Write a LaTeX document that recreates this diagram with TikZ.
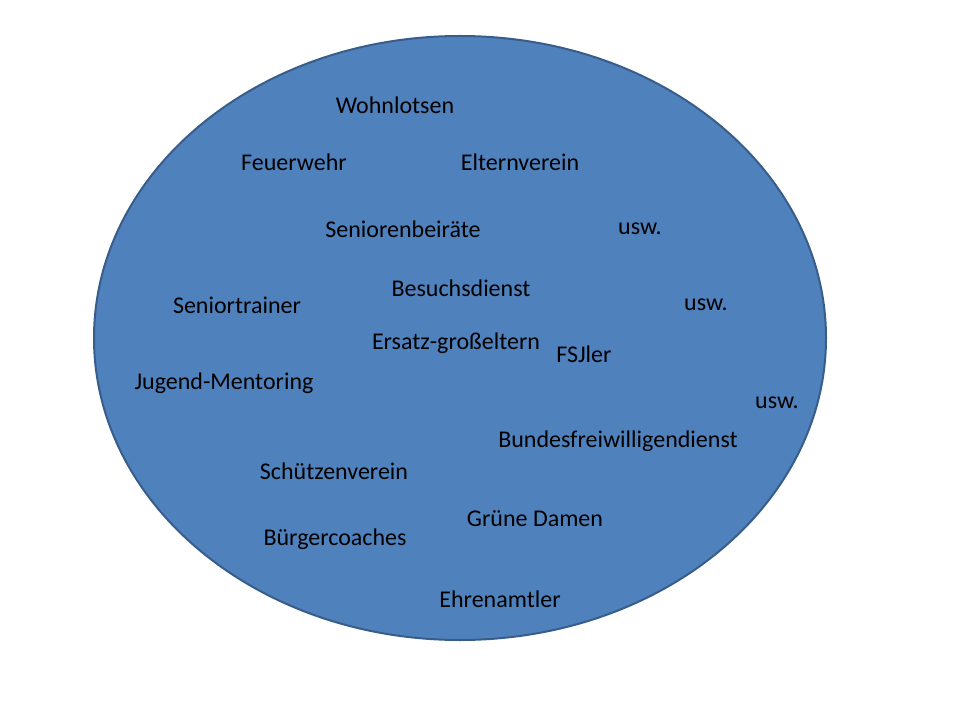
\documentclass[tikz,border=0pt]{standalone}
\usepackage{fontspec}
\setmainfont{Carlito}
\definecolor{fillc}{HTML}{4F81BD}
\definecolor{edgec}{HTML}{385D8A}
\begin{document}
\begin{tikzpicture}[x=0.75pt,y=-0.75pt,lbl/.style={font=\fontsize{18}{20}\selectfont,text=black,inner sep=0pt}]
\useasboundingbox (0,0) rectangle (960,720);
\fill[white] (0,0) rectangle (960,720);
\draw[fill=fillc,draw=edgec,line width=1.5pt] (460,338) ellipse [x radius=366,y radius=302];
\node[lbl] (a) at (395,105) {Wohnlotsen};
\node[lbl] (b) at (294,162) {Feuerwehr};
\node[lbl] (c) at (520,162) {Elternverein};
\node[lbl] (d) at (403,229) {Seniorenbeiräte};
\node[lbl] (e) at (640,229) {usw.};
\node[lbl] (f) at (461,288) {Besuchsdienst};
\node[lbl] (g) at (237,305) {Seniortrainer};
\node[lbl] (h) at (706,305) {usw.};
\node[lbl] (i) at (456,343) {Ersatz-großeltern};
\node[lbl] (j) at (584,354) {FSJler};
\node[lbl] (k) at (224,383) {Jugend-Mentoring};
\node[lbl] (l) at (777,403) {usw.};
\node[lbl] (m) at (618,441) {Bundesfreiwilligendienst};
\node[lbl] (n) at (334,471) {Schützenverein};
\node[lbl] (o) at (535,519) {Grüne Damen};
\node[lbl] (p) at (335,539) {Bürgercoaches};
\node[lbl] (q) at (500,599) {Ehrenamtler};
\end{tikzpicture}
\end{document}
